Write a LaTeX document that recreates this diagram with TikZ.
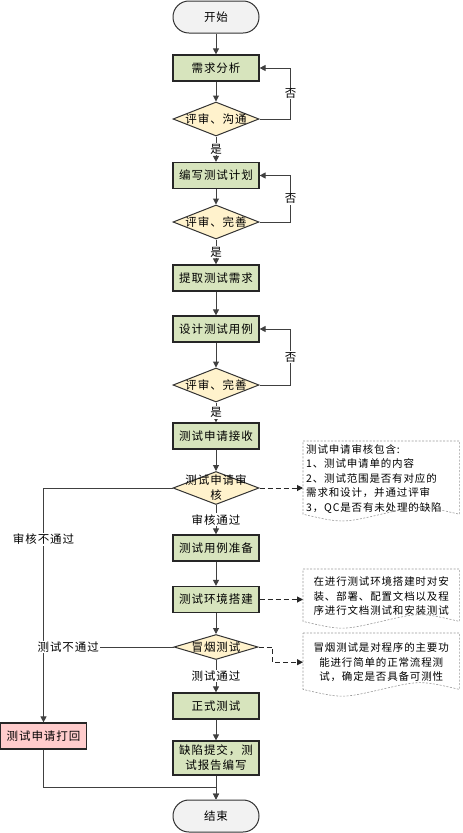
\documentclass[tikz,border=0pt]{standalone}
\usepackage{fontspec}
\setmainfont{Noto Sans CJK SC}[LetterSpace=8]
\usetikzlibrary{arrows.meta,positioning,calc,shapes.geometric}
\definecolor{stepgreen}{HTML}{D7E4BD}
\definecolor{checkyellow}{HTML}{FFF2CC}
\definecolor{endgray}{HTML}{F2F2F2}
\definecolor{backpink}{HTML}{FFCCCC}
\definecolor{linegray}{HTML}{404040}
\newcommand{\wavyedge}[1]{%
 \draw[notebd] (#1.north west) -- (#1.north east) -- ($(#1.south east)+(0,-2)$)
  .. controls ($(#1.south east)!.25!(#1.south west)+(0,-11)$) .. ($(#1.south)+(0,-2)$)
  .. controls ($(#1.south east)!.75!(#1.south west)+(0,7)$) .. ($(#1.south west)+(0,-2)$) -- cycle;}

\begin{document}
\begin{tikzpicture}[x=1pt,y=-1pt,
 every node/.style={font=\fontsize{11.5}{15}\selectfont,align=center},
 term/.style={draw=black!80,line width=1pt,fill=endgray,rounded corners=15.9pt,minimum width=86pt,minimum height=32pt},
 stepbox/.style={draw=black!85,line width=1.2pt,fill=stepgreen,minimum width=86pt,minimum height=26pt,inner sep=1pt},
 check/.style={diamond,draw=black!80,line width=1pt,fill=checkyellow,minimum width=86pt,minimum height=34pt,inner sep=0pt},
 backbox/.style={stepbox,fill=backpink},
 note/.style={anchor=north west,text width=150pt,inner sep=3pt,font=\fontsize{10.5}{14.5}\selectfont},
 notebd/.style={draw=black!40,dash pattern=on 2pt off 1.5pt,line width=.6pt},
 flow/.style={-{Triangle[length=6pt,width=6pt]},line width=1pt,draw=linegray},
 wire/.style={line width=1pt,draw=linegray},
 hint/.style={flow,dash pattern=on 5pt off 3pt,draw=black!85},
 lab/.style={fill=white,inner sep=1pt}]
\useasboundingbox (0,0) rectangle (463,833);

% main column
\node[term] (start) at (216,17) {开始};
\node[stepbox] (req) at (216,68) {需求分析};
\node[check,label=center:评审、沟通] (rev1) at (216,119) {};
\node[stepbox] (plan) at (216,175.5) {编写测试计划};
\node[check,label=center:评审、完善] (rev2) at (216,222) {};
\node[stepbox] (pick) at (216,278) {提取测试需求};
\node[stepbox] (design) at (216,329) {设计测试用例};
\node[check,label=center:评审、完善] (rev3) at (216,385) {};
\node[stepbox] (recv) at (216,436) {测试申请接收};
\node[check,minimum height=33pt,label={[align=center]center:测试申请审\\核}] (audit) at (216,488) {};
\node[stepbox] (prep) at (216,548) {测试用例准备};
\node[stepbox] (env) at (216,599.5) {测试环境搭建};
\node[check,minimum width=84pt,minimum height=25pt,label=center:冒烟测试] (smoke) at (216,647) {};
\node[stepbox] (formal) at (216,706) {正式测试};
\node[stepbox,minimum height=34pt] (defect) at (216,758) {缺陷提交，测\\试报告编写};
\node[term] (finish) at (216,816) {结束};
\node[backbox] (reject) at (43.5,736) {测试申请打回};

% notes
\node[note,align=left] (auditnote) at (303,441) {测试申请审核包含:\\1、测试申请单的内容\\2、测试范围是否有对应的\\需求和设计，并通过评审\\3，QC是否有未处理的缺陷};
\node[note,minimum height=54pt] (envnote) at (303,569) {在进行测试环境搭建时对安\\装、部署、配置文档以及程\\序进行文档测试和安装测试};
\node[note,minimum height=58pt] (smokenote) at (303,633) {冒烟测试是对程序的主要功\\能进行简单的正常流程测\\试，确定是否具备可测性};
\wavyedge{auditnote}
\wavyedge{envnote}
\wavyedge{smokenote}

% connectors
\draw[flow] (start) -- (req);
\draw[flow] (req) -- (rev1);
\draw[flow] (rev1) -- node[lab]{是} (plan);
\draw[flow] (rev1.east) -- ++(31,0) |- node[lab,pos=.25]{否} (req.east);
\draw[flow] (plan) -- (rev2);
\draw[flow] (rev2) -- node[lab]{是} (pick);
\draw[flow] (rev2.east) -- ++(31,0) |- node[lab,pos=.25]{否} (plan.east);
\draw[flow] (pick) -- (design);
\draw[flow] (design) -- (rev3);
\draw[flow] (rev3) -- node[lab]{是} (recv);
\draw[flow] (rev3.east) -- ++(31,0) |- node[lab,pos=.25]{否} (design.east);
\draw[flow] (recv) -- (audit);
\draw[flow] (audit) -- node[lab]{审核通过} (prep);
\draw[flow] (audit.west) -| node[lab,pos=.61]{审核不通过} (reject.north);
\draw[flow] (prep) -- (env);
\draw[flow] (env) -- (smoke);
\draw[flow] (smoke) -- node[lab]{测试通过} (formal);
\draw[wire] (smoke.west) -- node[lab,pos=.81]{测试不通过} (smoke.west -| reject.north);
\draw[flow] (formal) -- (defect);
\draw[flow] (defect) -- (finish);
\draw[flow] (reject.south) |- ($(defect.south)!.5!(finish.north)$) -- (finish.north);
\draw[hint] (audit.east) -- (audit.east -| auditnote.west);
\draw[hint] (env.east) -- (env.east -| envnote.west);
\draw[hint] (smoke.east) -- ++(14,0) |- (smokenote.west);
\end{tikzpicture}
\end{document}
